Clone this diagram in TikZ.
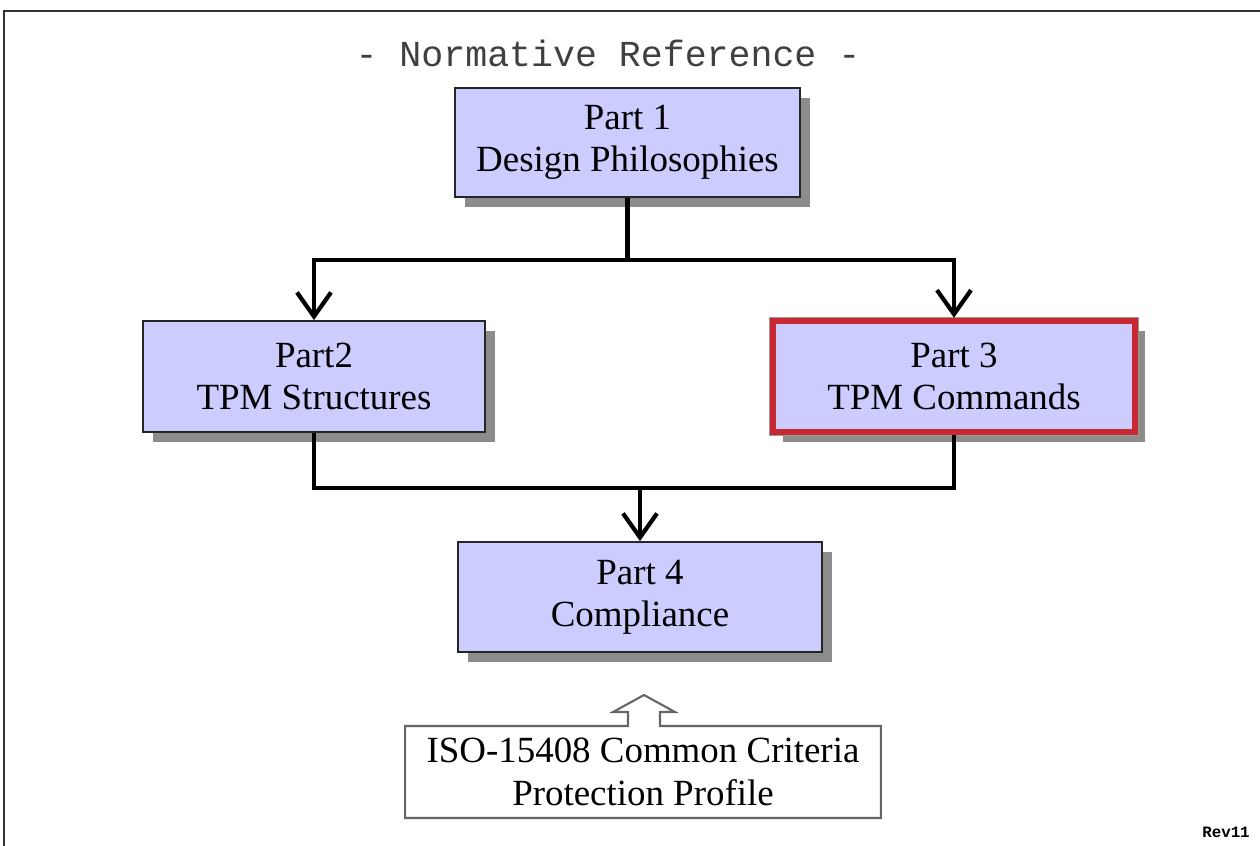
\documentclass[tikz,border=0pt]{standalone}
\usepackage{fontspec}
\setmainfont{Liberation Serif}
\newfontfamily\monofont{Liberation Mono}
\usetikzlibrary{arrows.meta,shadows}

\definecolor{partfill}{RGB}{204,204,255}
\definecolor{partshadow}{RGB}{140,140,140}
\definecolor{chosenred}{RGB}{200,40,50}

\begin{document}
\begin{tikzpicture}[
    x=0.01cm, y=-0.01cm,
    part/.style={rectangle, draw=black!85, line width=0.5pt, fill=partfill, align=center,
        font=\fontsize{10.5}{12}\selectfont,
        drop shadow={shadow xshift=0.1cm, shadow yshift=-0.1cm, fill=partshadow, opacity=1}},
    chosen/.style={part, draw=chosenred, line width=1.8pt},
    source/.style={rectangle, fill=white, align=center, font=\fontsize{10.5}{12}\selectfont},
    link/.style={line width=1.2pt},
    arrow/.style={link, -{Straight Barb[length=2.4mm,width=3.4mm]}}
]
    \useasboundingbox (0,0) rectangle (1260,846);
    \draw[black!80, line width=0.6pt] (1260,11) -- (4,11) -- (4,846);

    \node[font=\monofont\fontsize{10.4}{12}\selectfont, text=black!75] (title) at (608,53) {- Normative Reference -};

    \node[part, minimum width=3.45cm, minimum height=1.09cm] (p1) at (627.5,142.5) {Part 1\\Design Philosophies};
    \node[part, minimum width=3.42cm, minimum height=1.11cm] (p2) at (314,376.5) {Part2\\TPM Structures};
    \node[chosen, minimum width=3.62cm, minimum height=1.11cm] (p3) at (954,376.5) {Part 3\\TPM Commands};
    \draw[pink!70, line width=0.4pt] ([shift={(0.045,-0.045)}]p3.north west) rectangle ([shift={(-0.045,0.045)}]p3.south east);
    \draw[chosenred, line width=0.4pt] ([shift={(0.07,-0.07)}]p3.north west) rectangle ([shift={(-0.07,0.07)}]p3.south east);
    \draw[black!40, line width=0.3pt] ([shift={(-0.06,0.06)}]p3.north west) rectangle ([shift={(0.06,-0.06)}]p3.south east);
    \node[part, minimum width=3.64cm, minimum height=1.10cm] (p4) at (640,597) {Part 4\\Compliance};

    \node[source, minimum width=4.74cm, minimum height=0.9cm] (iso) at (643,772) {ISO-15408 Common Criteria\\Protection Profile};
    \draw[black!60, line width=0.6pt] (iso.north) ++(-15,0) -- ++(0,-14) -- ++(-15,0) -- ++(31,-17) -- ++(31,17)
        -- ++(-15,0) -- ++(0,14) -- (iso.north east) -- (iso.south east) -- (iso.south west) -- (iso.north west) -- cycle;

    \node[font=\monofont\bfseries\fontsize{4.5}{5}\selectfont] (rev) at (1226,832) {Rev11};

    % connectors
    \coordinate (split) at (p1.south |- 0,260);
    \coordinate (merge) at (p4.north |- 0,488);
    \draw[link] (p1.south) -- (split);
    \draw[arrow] (split) -| (p2.north);
    \draw[arrow] (split) -| (p3.north);
    \draw[link] (p2.south) |- (merge) -| (p3.south);
    \draw[arrow] (merge) -- (p4.north);
\end{tikzpicture}
\end{document}
